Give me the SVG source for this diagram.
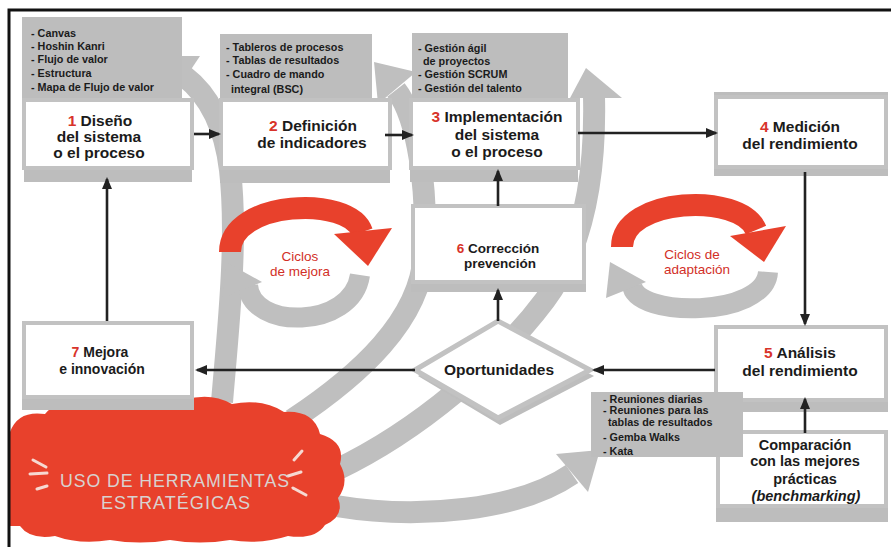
<svg xmlns="http://www.w3.org/2000/svg" width="891" height="547" viewBox="0 0 891 547">
  <defs>
    <style>
      .band { fill: none; stroke: #bfbfbf; stroke-width: 22; }
      .bandhead { fill: #bfbfbf; }
      .list { fill: #bdbdbd; }
      .box { fill: #ffffff; stroke: #c2c2c2; stroke-width: 4; }
      .shadow { fill: #bdbdbd; }
      .conn { stroke: #222222; stroke-width: 2.6; fill: none; marker-end: url(#arrow); }
      .t { font-family: "Liberation Sans", Arial, sans-serif; font-weight: bold; fill: #1b1b1b; text-anchor: middle; }
      .big { font-size: 15.5px; }
      .mid { font-size: 14.5px; }
      .li { font-family: "Liberation Sans", Arial, sans-serif; font-weight: bold; font-size: 10.8px; fill: #1b1b1b; }
      .num { fill: #d8332a; }
      .red { fill: #e8412c; }
      .cyc { font-family: "Liberation Sans", Arial, sans-serif; font-size: 13.5px; fill: #d22f27; text-anchor: middle; }
      .cloudtxt { font-family: "Liberation Sans", Arial, sans-serif; font-size: 19px; fill: #d8d2d0; text-anchor: middle; letter-spacing: 1px; }
      .dash { stroke: #f6d9d2; stroke-width: 3; stroke-linecap: round; }
    </style>
    <marker id="arrow" viewBox="0 0 12 10" refX="10" refY="5" markerWidth="12" markerHeight="10" markerUnits="userSpaceOnUse" orient="auto">
      <path d="M0,0 L12,5 L0,10 z" fill="#222222"/>
    </marker>
  </defs>

  <rect x="0" y="0" width="891" height="547" fill="#ffffff"/>

  <!-- background swooshes -->
  <g id="swooshes">
    <path class="band" d="M 222 402 C 228 330, 238 240, 230 170 C 224 120, 205 92, 184 76"/>
    <polygon class="bandhead" points="152,56 200,56 172,98"/>
    <path class="band" d="M 292 420 C 360 375, 420 320, 424 255 C 428 190, 418 118, 396 90"/>
    <polygon class="bandhead" points="374,62 416,72 378,104"/>
    <path class="band" d="M 336 470 C 420 430, 500 360, 545 300 C 582 250, 596 180, 594 96"/>
    <polygon class="bandhead" points="586,68 622,98 570,98"/>
    <path class="band" d="M 336 506 C 420 520, 520 510, 572 474"/>
    <polygon class="bandhead" points="600,450 588,492 556,454"/>
  </g>

  <!-- improvement cycle -->
  <g id="cycle-mejora">
    <path d="M 248 285 C 250 330, 352 330, 360 275" fill="none" stroke="#bfbfbf" stroke-width="20"/>
    <polygon points="226,262 262,282 222,298" fill="#bfbfbf"/>
    <path d="M 230 252 C 230 200, 350 195, 362 232" fill="none" stroke="#e8412c" stroke-width="22"/>
    <polygon class="red" points="334,234 392,228 368,266"/>
    <text class="cyc" x="300" y="261">Ciclos</text>
    <text class="cyc" x="300" y="276">de mejora</text>
  </g>

  <!-- adaptation cycle -->
  <g id="cycle-adaptacion">
    <path d="M 632 285 C 635 318, 765 318, 768 272" fill="none" stroke="#bfbfbf" stroke-width="20"/>
    <polygon points="610,262 646,282 606,298" fill="#bfbfbf"/>
    <path d="M 622 247 C 622 197, 740 192, 756 230" fill="none" stroke="#e8412c" stroke-width="22"/>
    <polygon class="red" points="730,236 786,226 764,262"/>
    <text class="cyc" x="692" y="259">Ciclos de</text>
    <text class="cyc" x="697" y="274">adaptación</text>
  </g>

  <!-- strategic tools cloud -->
  <g id="herramientas">
    <path fill="#e8412c" d="M 10 432 Q 18 410 45 414 Q 60 396 90 402 Q 112 392 135 400 Q 160 392 185 400 Q 210 392 232 404 Q 262 398 284 412 Q 314 410 320 434 Q 346 442 340 464 Q 350 482 338 498 Q 345 516 325 525 Q 315 540 288 536 Q 260 545 230 540 Q 200 545 170 540 Q 140 545 110 540 Q 80 545 55 536 Q 30 540 20 526 L 10 526 Z"/>
    <line class="dash" x1="33" y1="460" x2="46" y2="467"/>
    <line class="dash" x1="30" y1="474" x2="47" y2="473"/>
    <line class="dash" x1="37" y1="489" x2="47" y2="486"/>
    <line class="dash" x1="294" y1="460" x2="302" y2="451"/>
    <line class="dash" x1="288" y1="476" x2="301" y2="472"/>
    <line class="dash" x1="293" y1="488" x2="306" y2="495"/>
    <text class="cloudtxt" x="175" y="487" textLength="230" lengthAdjust="spacingAndGlyphs">USO DE HERRAMIENTAS</text>
    <text class="cloudtxt" x="176" y="509" textLength="150" lengthAdjust="spacingAndGlyphs">ESTRATÉGICAS</text>
  </g>

  <!-- 1 design -->
  <g id="n1">
    <rect class="list" x="22" y="17" width="160" height="84"/>
    <text class="li" x="31" y="37">- Canvas</text>
    <text class="li" x="31" y="50">- Hoshin Kanri</text>
    <text class="li" x="31" y="63">- Flujo de valor</text>
    <text class="li" x="31" y="77">- Estructura</text>
    <text class="li" x="31" y="91">- Mapa de Flujo de valor</text>
    <rect class="shadow" x="24" y="166" width="168" height="16"/>
    <rect class="box" x="24" y="100" width="168" height="68"/>
    <text class="t big" x="100" y="126"><tspan class="num">1</tspan> Diseño</text>
    <text class="t big" x="99" y="142">del sistema</text>
    <text class="t big" x="99" y="158">o el proceso</text>
  </g>

  <!-- 2 indicators -->
  <g id="n2">
    <rect class="list" x="220" y="34" width="152" height="67"/>
    <text class="li" x="226" y="51">- Tableros de procesos</text>
    <text class="li" x="226" y="64">- Tablas de resultados</text>
    <text class="li" x="226" y="78">- Cuadro de mando</text>
    <text class="li" x="231" y="93">integral (BSC)</text>
    <rect class="shadow" x="220" y="166" width="170" height="17"/>
    <rect class="box" x="221" y="100" width="169" height="68"/>
    <text class="t big" x="313" y="131"><tspan class="num">2</tspan> Definición</text>
    <text class="t big" x="312" y="148">de indicadores</text>
  </g>

  <!-- 3 implementation -->
  <g id="n3">
    <rect class="list" x="412" y="33" width="156" height="68"/>
    <text class="li" x="418" y="52">- Gestión ágil</text>
    <text class="li" x="423" y="65">de proyectos</text>
    <text class="li" x="418" y="78">- Gestión SCRUM</text>
    <text class="li" x="418" y="92">- Gestión del talento</text>
    <rect class="shadow" x="410" y="166" width="168" height="16"/>
    <rect class="box" x="411" y="100" width="167" height="68"/>
    <text class="t big" x="497" y="122"><tspan class="num">3</tspan> Implementación</text>
    <text class="t big" x="497" y="140">del sistema</text>
    <text class="t big" x="497" y="157">o el proceso</text>
  </g>

  <!-- 4 measurement -->
  <g id="n4">
    <rect class="shadow" x="714" y="92" width="174" height="8"/>
    <rect class="shadow" x="714" y="164" width="174" height="12"/>
    <rect class="box" x="716" y="97" width="170" height="70"/>
    <text class="t big" x="800" y="132"><tspan class="num">4</tspan> Medición</text>
    <text class="t big" x="800" y="149">del rendimiento</text>
  </g>

  <!-- 5 analysis -->
  <g id="n5">
    <rect class="shadow" x="714" y="398" width="174" height="14"/>
    <rect class="box" x="716" y="327" width="170" height="73"/>
    <text class="t big" x="800" y="358"><tspan class="num">5</tspan> Análisis</text>
    <text class="t big" x="800" y="376">del rendimiento</text>
  </g>

  <!-- 6 correction / prevention -->
  <g id="n6">
    <rect class="shadow" x="411" y="280" width="175" height="12"/>
    <rect class="box" x="413" y="206" width="171" height="76"/>
    <text class="t" x="498" y="253" font-size="13.5"><tspan class="num">6</tspan> Corrección</text>
    <text class="t" x="500" y="268" font-size="13.5" fill="#1c2440">prevención</text>
  </g>

  <!-- 7 improvement -->
  <g id="n7">
    <rect class="shadow" x="22" y="395" width="172" height="15"/>
    <rect class="box" x="24" y="323" width="168" height="74"/>
    <text class="t" x="100" y="357" font-size="14"><tspan class="num">7</tspan> Mejora</text>
    <text class="t" x="102" y="374" font-size="14">e innovación</text>
  </g>

  <!-- opportunities -->
  <g id="oportunidades">
    <polygon points="418,376 500,328 594,376 500,425" fill="#bdbdbd"/>
    <polygon points="415,370 498,321 590,370 498,418" fill="#ffffff" stroke="#c2c2c2" stroke-width="5"/>
    <text class="t big" x="499" y="375">Oportunidades</text>
  </g>

  <!-- benchmarking -->
  <g id="benchmarking">
    <rect class="shadow" x="716" y="504" width="172" height="18"/>
    <rect class="box" x="718" y="432" width="168" height="74"/>
    <text class="t mid" x="805" y="450">Comparación</text>
    <text class="t mid" x="805" y="466">con las mejores</text>
    <text class="t mid" x="805" y="484">prácticas</text>
    <text class="t mid" x="806" y="501" fill="#d22f27" font-style="italic">(benchmarking)</text>
  </g>

  <!-- meeting tools -->
  <g id="reuniones">
    <rect class="list" x="591" y="392" width="152" height="65"/>
    <text class="li" x="603" y="403">- Reuniones diarias</text>
    <text class="li" x="603" y="414">- Reuniones para las</text>
    <text class="li" x="608" y="426">tablas de resultados</text>
    <text class="li" x="603" y="441">- Gemba Walks</text>
    <text class="li" x="603" y="455">- Kata</text>
  </g>

  <!-- connectors -->
  <g id="connectors">
    <line class="conn" x1="194" y1="134" x2="219" y2="134"/>
    <line class="conn" x1="385" y1="135" x2="412" y2="135"/>
    <line class="conn" x1="578" y1="133" x2="716" y2="133"/>
    <line class="conn" x1="805" y1="172" x2="805" y2="324"/>
    <line class="conn" x1="715" y1="370" x2="594" y2="370"/>
    <line class="conn" x1="415" y1="370" x2="197" y2="370"/>
    <line class="conn" x1="498" y1="321" x2="498" y2="290"/>
    <line class="conn" x1="498" y1="206" x2="498" y2="171"/>
    <line class="conn" x1="107" y1="321" x2="107" y2="179"/>
    <line class="conn" x1="805" y1="433" x2="805" y2="399"/>
  </g>

  <!-- frame -->
  <path d="M 9 547 L 9 10 L 891 10" fill="none" stroke="#111111" stroke-width="3"/>
</svg>
